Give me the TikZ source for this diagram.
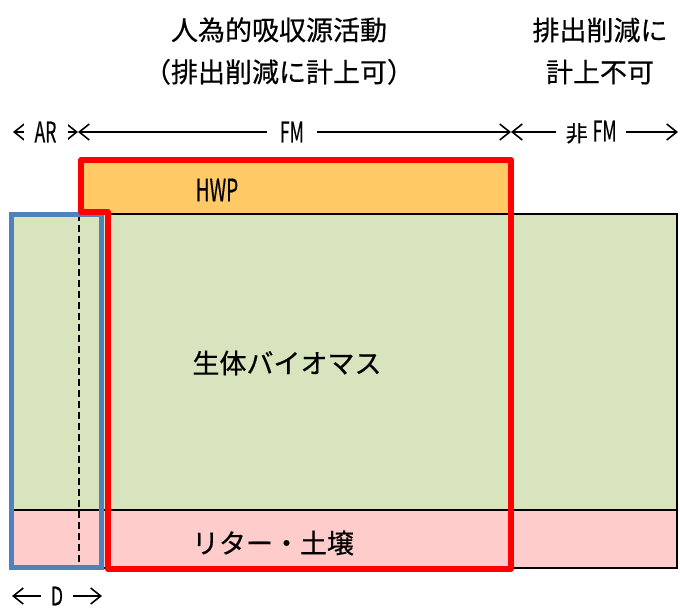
\documentclass[tikz,border=0pt]{standalone}
\usepackage{fontspec}
\setmainfont{Noto Sans CJK JP}[FakeBold=0.5]
\usetikzlibrary{arrows.meta}
\definecolor{biocol}{HTML}{D7E4BD}
\definecolor{litcol}{HTML}{FFCCCC}
\definecolor{hwpcol}{HTML}{FFC966}
\definecolor{arblue}{HTML}{4F81BD}
\newcommand{\latn}[1]{\scalebox{0.8}[1.3]{#1}}
\begin{document}
\begin{tikzpicture}[x=1pt,y=-1pt,
  outline/.style={draw=black,line width=1.8pt},
  lbl/.style={font=\fontsize{27pt}{42pt}\selectfont, inner sep=0pt, align=center},
  small/.style={font=\fontsize{22pt}{24pt}\selectfont, fill=white, inner sep=0pt, minimum height=24pt},
  dbl/.style={line width=1.6pt, {Straight Barb[length=10pt,width=16pt]}-{Straight Barb[length=10pt,width=16pt]}}
]
\useasboundingbox (0,0) rectangle (680,608);
% regions
\fill[biocol] (10,214) rectangle (677,510);
\fill[litcol] (10,510) rectangle (677,568);
\fill[hwpcol] (80,158) rectangle (510,214);
\draw[outline] (10,214) rectangle (677,568);
\draw[outline] (10,510) -- (677,510);
\draw[line width=1.5pt, dash pattern=on 7pt off 4pt] (79,214) -- (79,568);
\draw[arblue, line width=5pt] (11.5,214) rectangle (101,567.5);
\draw[red, line width=6pt, line join=round] (81,160) -- (511,160) -- (511,568.5) -- (107.5,568.5) -- (107.5,212) -- (81,212) -- cycle;
% labels
\node[lbl] (title1) at (279,51) {人為的吸収源活動\\（排出削減に計上可）};
\node[lbl] (title2) at (600,51) {排出削減に\\計上不可};
\node[lbl] (hwp) at (217,190) {\scalebox{0.7}[1.15]{HWP}};
\node[lbl] (bio) at (287,363) {生体バイオマス};
\node[lbl] (soil) at (273,543) {リター・土壌};
% scope arrows
\coordinate (a0) at (13,132);
\coordinate (a1) at (78,132);
\coordinate (a2) at (511,132);
\coordinate (a3) at (678,132);
\draw[dbl] (a0) -- node[small, minimum width=44pt] (ar) {\latn{AR}} (a1);
\draw[dbl] (a1) -- node[small, minimum width=50pt, pos=0.494] (fm) {\latn{FM}} (a2);
\draw[dbl] (a2) -- node[small, minimum width=70pt, pos=0.48] (nfm) {非 \latn{FM}} (a3);
\coordinate (d0) at (12,596);
\coordinate (d1) at (102,596);
\draw[dbl] (d0) -- node[small, minimum width=32pt, minimum height=0pt] (dlab) {\scalebox{0.8}[1.15]{D}} (d1);
\end{tikzpicture}
\end{document}
